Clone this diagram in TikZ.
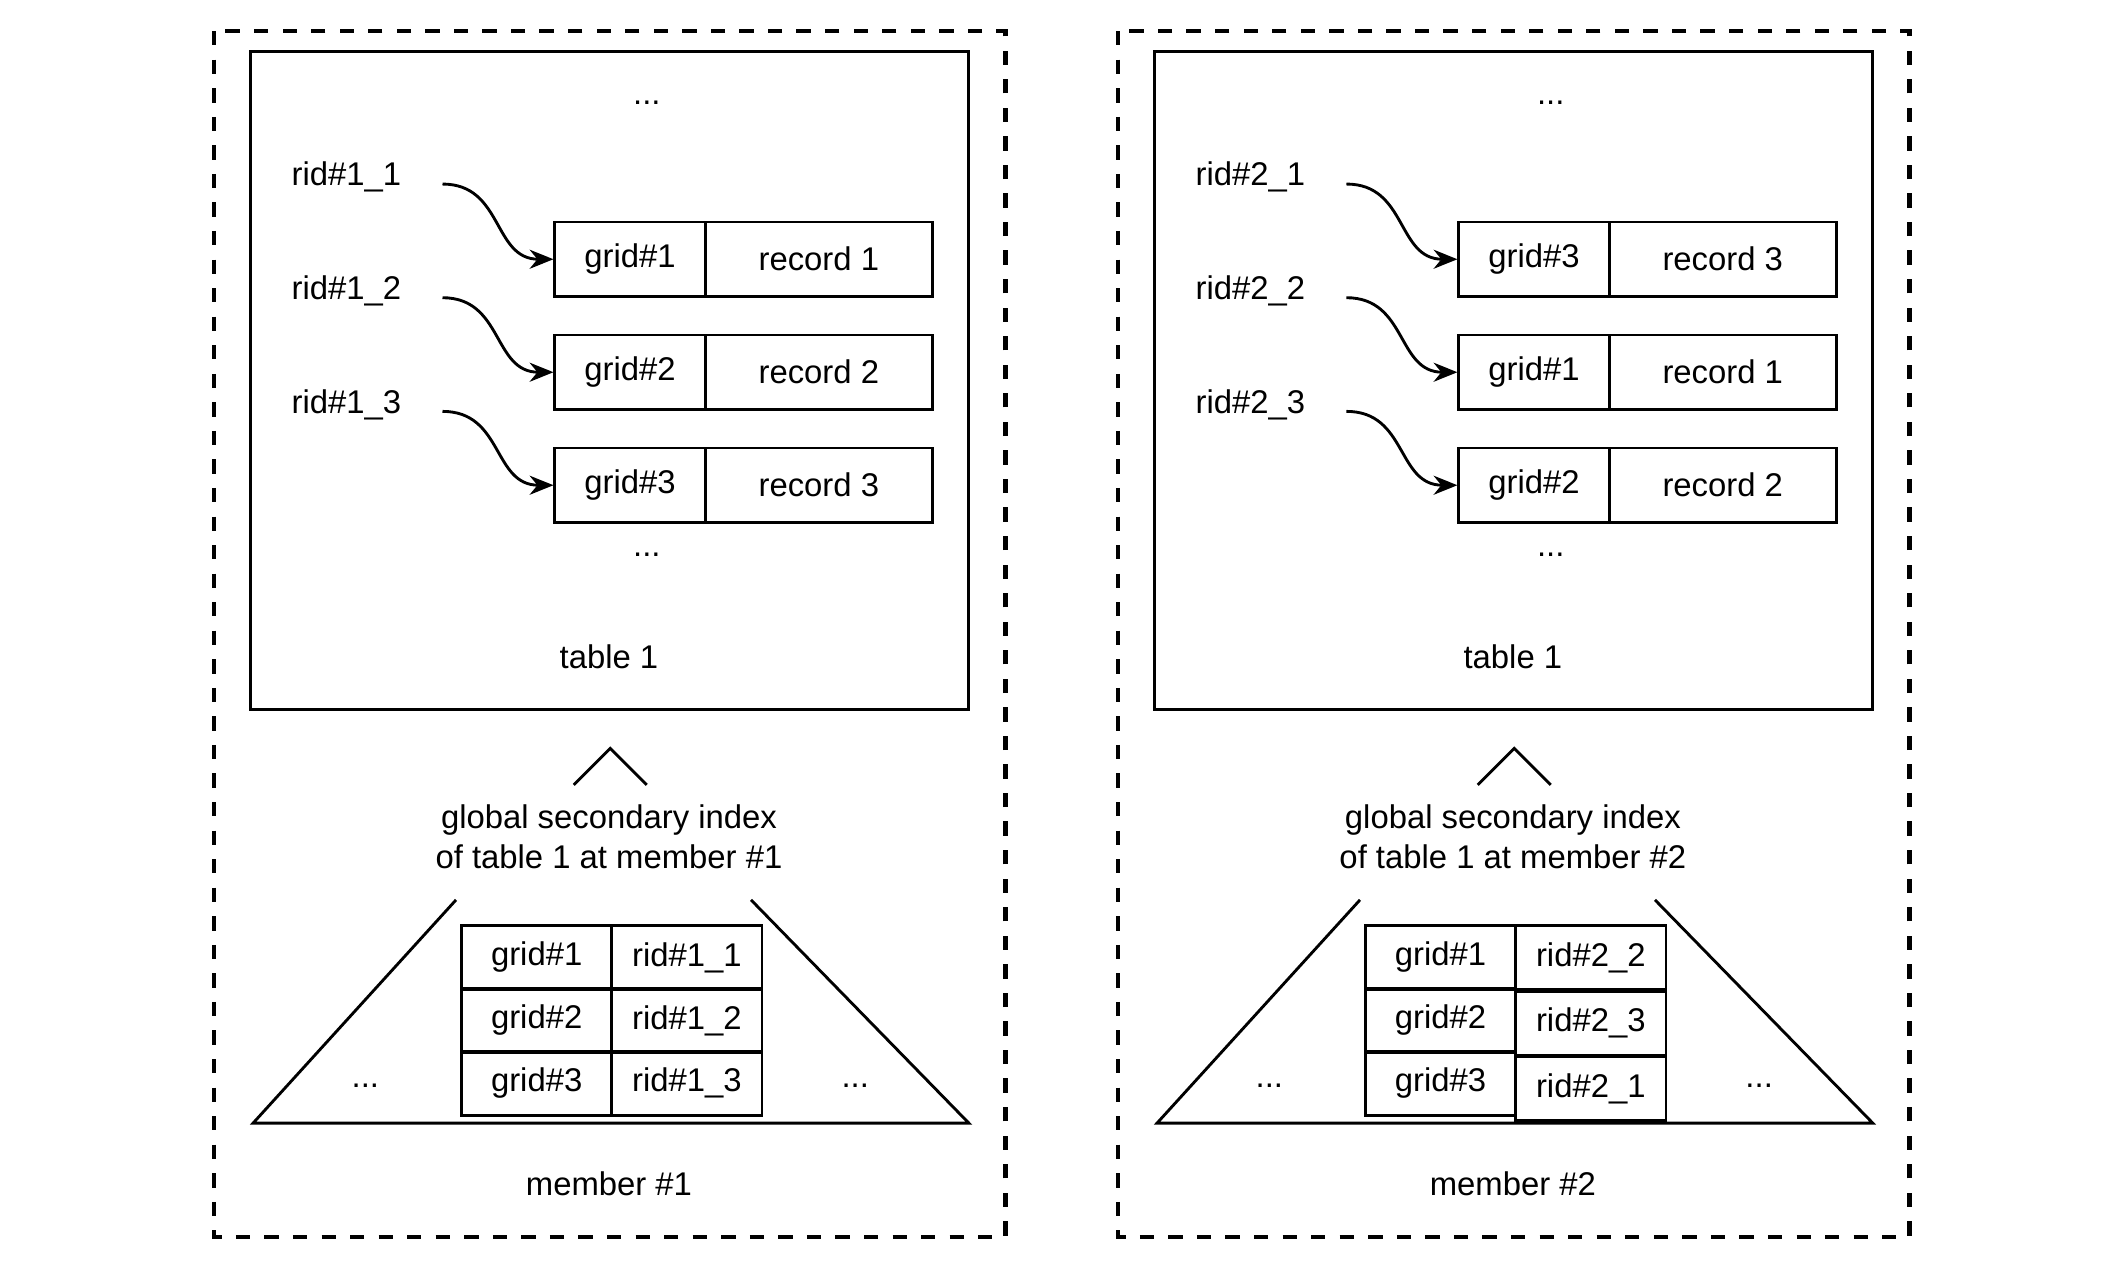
\documentclass[tikz,border=0pt]{standalone}
\usepackage{fontspec}
\setmainfont{Liberation Sans}
\usetikzlibrary{arrows.meta,positioning}
\tikzset{
    >=Stealth,
    every node/.append style={font=\fontsize{6.9}{8.4}\selectfont,align=center},
    cell/.style={draw,line width=0.6pt,minimum width=1.11cm,minimum height=0.55cm,inner sep=0pt,anchor=north west},
    icell/.style={draw,line width=0.6pt,minimum width=1.11cm,minimum height=0.47cm,inner sep=0pt,anchor=north west},
    pointer/.style={->,line width=0.6pt,>={Stealth[length=5pt,width=4pt]}},
}
\begin{document}
\begin{tikzpicture}[x=0.01cm,y=-0.01cm,line width=0.6pt]
    \useasboundingbox (0,0) rectangle (1560,939);
    \foreach \p/\dx/\ga/\gb/\gc/\ra/\rb/\rc/\ia/\ib/\ic/\sh in
        {1/0/1/2/3/1/2/3/1/2/3/0, 2/668/3/1/2/3/1/2/2/3/1/2}{
        \begin{scope}[xshift=\dx*0.01cm]
            % outer member box
            \draw[dashed,line width=0.9pt] (158,23) rectangle (743,914);
            \draw (185,38) rectangle (716,524);
            \node (top\p) at (478,76) {...};
            \node (bot\p) at (478,410) {...};
            \node (tab\p) at (450,485) {table 1};
            % records
            \foreach \i/\g/\r [count=\k from 0, evaluate=\k as \ry using 163+83.5*\k, evaluate=\k as \ly using 131+84*\k] in {1/\ga/\ra,2/\gb/\rb,3/\gc/\rc}{
                \node[cell] (g\p\i) at (409,\ry) {grid\#\g};
                \node[cell,minimum width=1.68cm] (rec\p\i) at (520,\ry) {record \r};
                \node (rid\p\i) at (256,\ly) {rid\#\p\_\i};
                \coordinate (s\p\i) at (327,\ly+5);
                \draw[pointer] (s\p\i) .. controls +(45,0) and +(-45,0) .. (g\p\i.west);
            }
            % index
            \draw (424,580) -- (451,553) -- (478,580);
            \node (gsi\p) at (450,618) {global secondary index\\of table 1 at member \#\p};
            \draw (337,665) -- (187,830) -- (716,830) -- (555,665);
            \foreach \i/\r [count=\k from 0, evaluate=\k as \iy using 683+46.5*\k, evaluate=\k as \jy using 683+46.5*\k+\sh*(\k==2)] in {1/\ia,2/\ib,3/\ic}{
                \node[icell] (ig\p\i) at (340,\iy) {grid\#\i};
                \node[icell] (ir\p\i) at (451,\jy) {rid\#\p\_\r};
            }
            \node (dl\p) at (270,802) {...};
            \node (dr\p) at (632,802) {...};
            \node (mem\p) at (450,875) {member \#\p};
        \end{scope}
    }
\end{tikzpicture}
\end{document}
